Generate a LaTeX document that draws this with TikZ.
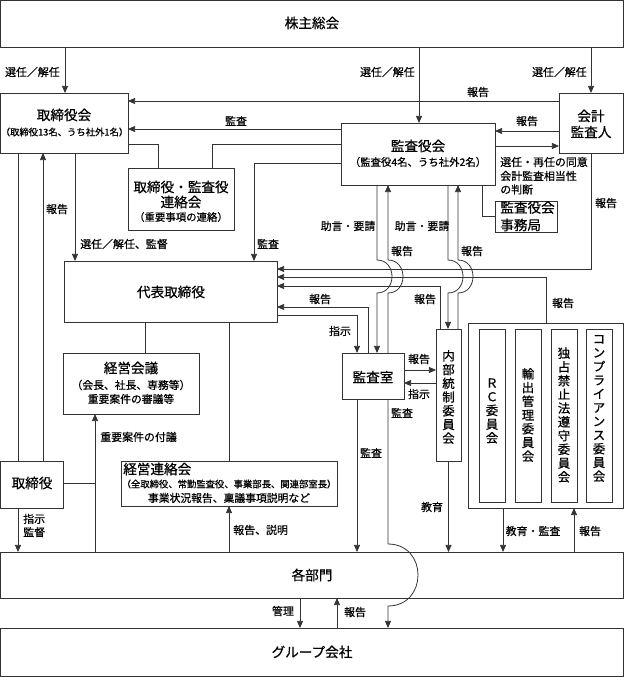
\documentclass[tikz,border=0pt]{standalone}
\usepackage{fontspec}
\setmainfont{Noto Sans CJK JP}[FakeBold=0.6]
\usetikzlibrary{arrows.meta}
\newcommand\fzT{\fontsize{10.2}{12}\selectfont}
\newcommand\fzL{\fontsize{8.2}{10}\selectfont}
\newcommand\fzS{\fontsize{7.8}{9}\selectfont}
\newcommand\fzX{\fontsize{7.0}{8}\selectfont}
\newcommand\fzY{\fontsize{7.0}{8}\selectfont}
\newcommand\fzM{\fontsize{8.1}{10}\selectfont}
\newcommand\fzV{\fontsize{9.3}{10.3}\selectfont}
\begin{document}
\begin{tikzpicture}[x=0.75pt,y=-0.75pt,
  bx/.style={draw=black!80, line width=0.6pt, fill=white, inner sep=0pt, outer sep=0pt},
  wh/.style 2 args={minimum width=#1*0.75pt, minimum height=#2*0.75pt},
  tt/.style={inner sep=0pt, font=\fzT},
  lb/.style={inner sep=0pt, font=\fzL},
  sb/.style={inner sep=0pt, font=\fzS},
  vt/.style={inner sep=0pt, font=\fzV, align=center},
  ln/.style={draw=black!80, line width=0.6pt},
  ar/.style={ln, -{Triangle[length=5.3pt,width=4.5pt]}},
  ]
\useasboundingbox (0,0) rectangle (624,677);

% ---------------- boxes ----------------
\node[bx, wh={623}{46.5}] (kabu) at (312,23.75) {};
\node[tt] (kabuT) at (312,23) {株主総会};

\node[bx, wh={127.5}{60}] (tori) at (64.25,123) {};
\node[tt] (toriT) at (64,115) {取締役会};
\node[inner sep=0pt, font=\fzX] (toriS) at (64.5,132) {（取締役13名、うち社外1名）};

\node[bx, wh={64.5}{60}] (kaikei) at (591.25,123) {};
\node[tt] (kaikeiT1) at (591,116) {会計};
\node[tt] (kaikeiT2) at (591,132) {監査人};

\node[bx, wh={154}{62}] (kansayaku) at (418,154) {};
\node[tt] (kansayakuT) at (418,146) {監査役会};
\node[sb] (kansayakuS) at (418,162) {（監査役4名、うち社外2名）};

\node[bx, wh={106}{62}] (renraku) at (181,199) {};
\node[tt] (renrakuT1) at (181,187) {取締役・監査役};
\node[tt] (renrakuT2) at (181,202) {連絡会};
\node[sb] (renrakuS) at (181,217) {（重要事項の連絡）};

\node[bx, wh={62}{31}] (jimu) at (526,216.5) {};
\node[tt, anchor=west] (jimuT1) at (500,207.5) {監査役会};
\node[tt, anchor=west] (jimuT2) at (500,225) {事務局};

\node[bx, wh={213}{61}] (daihyo) at (170.5,291.5) {};
\node[tt] (daihyoT) at (171,292) {代表取締役};

\node[bx, wh={136}{61}] (keiei) at (131,383.5) {};
\node[tt] (keieiT) at (131,368) {経営会議};
\node[inner sep=0pt, font=\fzM] (keieiS1) at (131,385) {（会長、社長、専務等）};
\node[inner sep=0pt, font=\fzM] (keieiS2) at (131,399) {重要案件の審議等};

\node[bx, wh={62.5}{47}] (torishimari) at (31.75,484.5) {};
\node[tt] (torishimariT) at (32,483) {取締役};

\node[bx, wh={216}{45}] (keieiR) at (229,483.5) {};
\node[tt, anchor=west] (keieiRT) at (123,469) {経営連絡会};
\node[inner sep=0pt, font=\fzY] (keieiRS1) at (229,484) {（全取締役、常勤監査役、事業部長、関連部室長）};
\node[inner sep=0pt, font=\fzM] (keieiRS2) at (229,498) {事業状況報告、稟議事項説明など};

\node[bx, wh={25}{132}] (naibu) at (448.5,395) {};
\node[vt] (naibuT) at (448.5,397) {内\\部\\統\\制\\委\\員\\会};

\node[bx, wh={155.5}{185}] (iin) at (545.75,415.5) {};
\node[bx, wh={26}{173}] (iin1) at (492,415.5) {};
\node[bx, wh={26}{173}] (iin2) at (528,415.5) {};
\node[bx, wh={26}{173}] (iin3) at (564,415.5) {};
\node[bx, wh={26}{173}] (iin4) at (599,415.5) {};
\node[vt] (iin1T) at (492,411) {Ｒ\\Ｃ\\委\\員\\会};
\node[vt] (iin2T) at (528,415) {輸\\出\\管\\理\\委\\員\\会};
\node[vt] (iin3T) at (564,415) {独\\占\\禁\\止\\法\\遵\\守\\委\\員\\会};
\node[vt] (iin4T) at (599,408.5) {コ\\ン\\プ\\ラ\\イ\\ア\\ン\\ス\\委\\員\\会};

\node[bx, wh={62}{46}] (kansashitsu) at (373,376) {};
\node[tt] (kansashitsuT) at (373,377) {監査室};

\node[bx, wh={623}{46}] (kakubu) at (312,575) {};
\node[tt] (kakubuT) at (312,575) {各部門};

\node[bx, wh={623}{48.5}] (group) at (312,652.25) {};
\node[tt] (groupT) at (312,652) {グループ会社};

% ---------------- connectors ----------------
\draw[ar] (kabu.south -| 65,0) -- (tori.north -| 65,0);
\node[lb, anchor=east] (l1) at (60,72) {選任／解任};
\draw[ar] (kabu.south -| 419,0) -- (kansayaku.north -| 419,0);
\node[lb, anchor=east] (l2) at (415,72) {選任／解任};
\draw[ar] (kabu.south -| 591,0) -- (kaikei.north -| 591,0);
\node[lb, anchor=east] (l3) at (587,72) {選任／解任};

\draw[ar] (kaikei.west |- 0,101) -- (tori.east |- 0,101);
\node[lb] (l4) at (478,92) {報告};
\draw[ar] (kansayaku.west |- 0,129) -- (tori.east |- 0,129);
\node[lb] (l5) at (236,121) {監査};
\draw[ar] (kaikei.west |- 0,131) -- (kansayaku.east |- 0,131);
\node[lb] (l6) at (527,121) {報告};
\draw[ar] (kansayaku.east |- 0,146) -- (kaikei.west |- 0,146);
\node[lb, anchor=west] (l7a) at (500,162) {選任・再任の同意};
\node[lb, anchor=west] (l7b) at (500,176) {会計監査相当性};
\node[lb, anchor=west] (l7c) at (500,189.5) {の判断};

\draw[ln] (tori.east |- 0,144) -| (renraku.north -| 158,0);
\draw[ln] (kansayaku.west |- 0,144) -| (renraku.north -| 212,0);
\draw[ar] (kansayaku.west |- 0,163) -| (daihyo.north -| 254,0);
\node[lb] (l8) at (268,244) {監査};

\draw[ln] (tori.south -| 18,0) -- (torishimari.north -| 18,0);
\draw[ar] (torishimari.north -| 43,0) -- (tori.south -| 43,0);
\node[lb] (l9) at (57,209) {報告};
\draw[ar] (tori.south -| 75,0) -- (daihyo.north -| 75,0);
\node[lb, anchor=west] (l10) at (80,244) {選任／解任、監督};

\draw[ln] (daihyo.south -| 145,0) -- (keiei.north -| 145,0);
\draw[ln] (daihyo.south -| 229,0) -- (keieiR.north -| 229,0);
\draw[ar] (kakubu.north -| 95,0) -- (keiei.south -| 95,0);
\node[lb, anchor=west] (l11) at (100,437) {重要案件の付議};
\coordinate (j1) at (95,483);
\draw[ln] (torishimari.east |- j1) -- (j1);
\draw[ar] (torishimari.south -| 18,0) -- (kakubu.north -| 18,0);
\node[lb, anchor=west, align=left] (l12) at (23,525.5) {指示\\監督};
\draw[ar] (kakubu.north -| 229,0) -- (keieiR.south -| 229,0);
\node[lb, anchor=west] (l13) at (233,530) {報告、説明};

\draw[ar] (kansashitsu.south -| 357,0) -- (kakubu.north -| 357,0);
\node[lb] (l14) at (371,453) {監査};

% lines between 監査役会 and 監査室 / 内部統制 with jumps
\draw[ar] (kansayaku.south -| 377,0) -- (377,260) .. controls (397,260) and (397,293) .. (377,293) -- (kansashitsu.north -| 377,0);
\node[lb] (l15) at (348,226) {助言・要請};
\draw[ar] (kansashitsu.north -| 388,0) -- (388,293) .. controls (408,293) and (408,260) .. (388,260) -- (kansayaku.south -| 388,0);
\node[lb] (l16) at (402,251) {報告};
\draw[ar] (kansayaku.south -| 448,0) -- (448,260) .. controls (468,260) and (468,293) .. (448,293) -- (naibu.north -| 448,0);
\node[lb] (l17) at (422,226) {助言・要請};
\draw[ar] (naibu.north -| 458,0) -- (458,293) .. controls (478,293) and (478,260) .. (458,260) -- (kansayaku.south -| 458,0);
\node[lb] (l18) at (472,251) {報告};

\draw[ar] (kansashitsu.south -| 388,0) -- (388,544) .. controls (428,544) and (428,606) .. (388,606) -- (group.north -| 388,0);
\node[lb] (l19) at (402,413) {監査};

% reports into 代表取締役
\draw[ar] (kaikei.south -| 591,0) |- (daihyo.east |- 0,269);
\node[lb] (l20) at (606,203) {報告};
\draw[ar] (iin.north -| 546,0) |- (daihyo.east |- 0,277);
\node[lb] (l21) at (563,303) {報告};
\draw[ar] (naibu.north -| 440,0) |- (daihyo.east |- 0,286);
\node[lb] (l22) at (425,299) {報告};
\draw[ar] (kansashitsu.north -| 368,0) |- (daihyo.east |- 0,307);
\node[lb] (l23) at (320,299) {報告};
\draw[ar] (daihyo.east |- 0,315) -| (kansashitsu.north -| 357,0);
\node[lb] (l24) at (340,331) {指示};

\draw[ar] (kansashitsu.east |- 0,370) -- (naibu.west |- 0,370);
\node[lb] (l25) at (419,359) {報告};
\draw[ar] (naibu.west |- 0,383) -- (kansashitsu.east |- 0,383);
\node[lb] (l26) at (419,394) {指示};

\draw[ar] (naibu.south) -- (kakubu.north -| naibu.south);
\node[lb] (l27) at (432,507) {教育};
\draw[ar] (iin.south -| 503,0) -- (kakubu.north -| 503,0);
\node[lb] (l28) at (533,531) {教育・監査};
\draw[ar] (kakubu.north -| 574,0) -- (iin.south -| 574,0);
\node[lb] (l29) at (590,531) {報告};

\draw[ar] (kakubu.south -| 300,0) -- (group.north -| 300,0);
\node[lb] (l30) at (283,611) {管理};
\draw[ar] (group.north -| 337,0) -- (kakubu.south -| 337,0);
\node[lb] (l31) at (355,612) {報告};

\draw[ln] (kansayaku.south -| 482,0) |- (jimu.west);
\end{tikzpicture}
\end{document}
